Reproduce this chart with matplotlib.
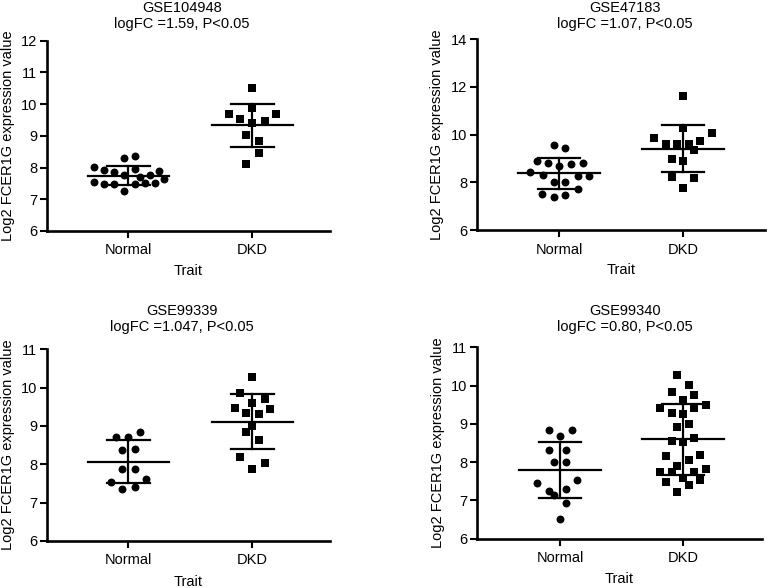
import numpy as np
import matplotlib
matplotlib.use('Agg')
import matplotlib.pyplot as plt

plt.rcParams['font.family'] = ['Liberation Sans', 'DejaVu Sans']
plt.rcParams['font.size'] = 10.5

# values, one list per group
groups = ['Normal', 'DKD']

titles = ['GSE104948\nlogFC =1.59, P<0.05',
          'GSE47183\nlogFC =1.07, P<0.05',
          'GSE99339\nlogFC =1.047, P<0.05',
          'GSE99340\nlogFC =0.80, P<0.05']

normal_1 = [8.30, 8.35, 8.01, 7.91, 7.86, 7.96, 7.89, 7.75, 7.70, 7.78,
            7.54, 7.49, 7.49, 7.49, 7.51, 7.51, 7.63, 7.26]
normal_1_dx = [-0.04, 0.05, -0.28, -0.20, -0.12, 0.05, 0.25, -0.04, 0.09, 0.17,
               -0.28, -0.20, -0.12, 0.05, 0.13, 0.21, 0.29, -0.04]
dkd_1 = [10.52, 9.89, 9.70, 9.54, 9.41, 9.47, 9.68, 9.02, 8.85, 8.45, 8.12]
dkd_1_dx = [0, 0, -0.19, -0.10, 0, 0.10, 0.19, -0.05, 0.05, 0.05, -0.05]

normal_2 = [9.57, 9.43, 8.89, 8.80, 8.70, 8.77, 8.81, 8.43, 8.29, 8.27, 8.27,
            8.03, 8.02, 7.70, 7.51, 7.39, 7.48]
normal_2_dx = [-0.04, 0.05, -0.18, -0.09, 0, 0.10, 0.19, -0.23, -0.13, 0.15, 0.24,
               -0.04, 0.05, 0.15, -0.14, -0.04, 0.05]
dkd_2 = [11.62, 10.29, 9.87, 10.06, 9.61, 9.61, 9.61, 9.75, 9.36, 8.97, 8.90,
         8.24, 8.17, 7.75]
dkd_2_dx = [0, 0, -0.23, 0.23, -0.14, -0.05, 0.05, 0.14, 0.09, -0.09, 0,
            -0.09, 0.09, 0]

normal_3 = [8.72, 8.70, 8.85, 8.37, 8.39, 7.88, 7.87, 7.55, 7.63, 7.35, 7.40]
normal_3_dx = [-0.10, 0, 0.09, -0.05, 0.05, -0.05, 0.05, -0.14, 0.14, -0.05, 0.05]
dkd_3 = [10.27, 9.87, 9.61, 9.70, 9.48, 9.45, 9.33, 9.30, 9.00, 8.85, 8.63,
         8.18, 8.04, 7.87]
dkd_3_dx = [0, -0.10, 0, 0.10, -0.14, 0.14, -0.05, 0.05, 0, -0.05, 0.05,
            -0.10, 0.10, 0]

normal_4 = [8.84, 8.84, 8.68, 8.32, 8.33, 8.01, 8.01, 7.46, 7.53, 7.25, 7.14,
            7.30, 6.92, 6.52]
normal_4_dx = [-0.09, 0.10, 0, -0.09, 0.05, -0.05, 0.05, -0.19, 0.14, -0.09, -0.05,
               0.05, 0.05, 0]
dkd_4 = [10.28, 10.01, 9.84, 9.75, 9.62, 9.42, 9.41, 9.49, 9.28, 9.25, 8.93, 8.99,
         8.56, 8.53, 8.64, 8.17, 8.19, 7.91, 8.06, 7.75, 7.75, 7.75, 7.82, 7.58,
         7.47, 7.53, 7.40, 7.23]
dkd_4_dx = [-0.05, 0.05, -0.09, 0.09, 0, -0.19, 0.09, 0.19, -0.09, 0, -0.05, 0.05,
            -0.09, 0, 0.09, -0.14, 0.14, -0.05, 0.05, -0.19, -0.09, 0.09, 0.19, 0,
            -0.14, 0.14, 0.05, -0.05]

ylims = [(6, 12), (6, 14), (6, 11), (6, 11)]
ystep = [1, 2, 1, 1]

W, H = 767, 588
# axes boxes in pixels: left, top, right, bottom
boxes = [(47, 40.7, 330, 231), (477, 39.3, 765, 230),
         (47, 349.3, 330, 541), (477, 347.3, 762, 538.7)]
xlims = [(-0.657, 1.625), (-0.661, 1.661), (-0.657, 1.625), (-0.675, 1.642)]
title_x = [0.477, 0.514, 0.477, 0.518]
title_dy = [17.6, 17.0, 22.0, 20.6]

data = [(normal_1, normal_1_dx, dkd_1, dkd_1_dx),
        (normal_2, normal_2_dx, dkd_2, dkd_2_dx),
        (normal_3, normal_3_dx, dkd_3, dkd_3_dx),
        (normal_4, normal_4_dx, dkd_4, dkd_4_dx)]

fig = plt.figure(figsize=(W / 100, H / 100), dpi=100)

for i in range(4):
    l, t, r, b = boxes[i]
    ax = fig.add_axes([l / W, 1 - b / H, (r - l) / W, (b - t) / H])
    norm, norm_dx, dkd, dkd_dx = data[i]

    ax.plot(0 + np.array(norm_dx), norm, 'o', color='black', ms=5.7, mew=0)
    ax.plot(1 + np.array(dkd_dx), dkd, 's', color='black', ms=5.3, mew=0)

    # mean and SD bars
    for pos, vals in [(0, norm), (1, dkd)]:
        m = np.mean(vals)
        sd = np.std(vals, ddof=1)
        ax.plot([pos - 0.33, pos + 0.33], [m, m], color='black', lw=1.6, zorder=3)
        ax.plot([pos, pos], [m - sd, m + sd], color='black', lw=1.6, zorder=3)
        for y in (m - sd, m + sd):
            ax.plot([pos - 0.17, pos + 0.17], [y, y], color='black', lw=1.6, zorder=3)

    ax.set_xlim(*xlims[i])
    ax.set_ylim(*ylims[i])
    ax.set_yticks(np.arange(ylims[i][0], ylims[i][1] + 0.1, ystep[i]))
    ax.set_xticks([0, 1])
    ax.set_xticklabels(groups)
    ax.spines['top'].set_visible(False)
    ax.spines['right'].set_visible(False)
    ax.spines['left'].set_linewidth(1.9)
    ax.spines['bottom'].set_linewidth(1.9)
    ax.tick_params(axis='both', width=1.5, length=5, labelsize=10.5, color='black')
    ax.tick_params(axis='y', pad=2)
    ax.tick_params(axis='x', pad=4)

    ax.set_ylabel('Log2 FCER1G expression value', fontsize=10.5)
    ax.yaxis.set_label_coords(-0.113, 0.5)
    ax.set_xlabel('Trait', fontsize=10.5, va='top')
    ax.xaxis.set_label_coords(0.5, -0.175)

    ax.annotate(titles[i], xy=(title_x[i], 1), xycoords='axes fraction',
                xytext=(0, title_dy[i]), textcoords='offset points',
                ha='center', va='center', fontsize=10.5, linespacing=1.15)

fig.savefig('out.png', dpi=100)
